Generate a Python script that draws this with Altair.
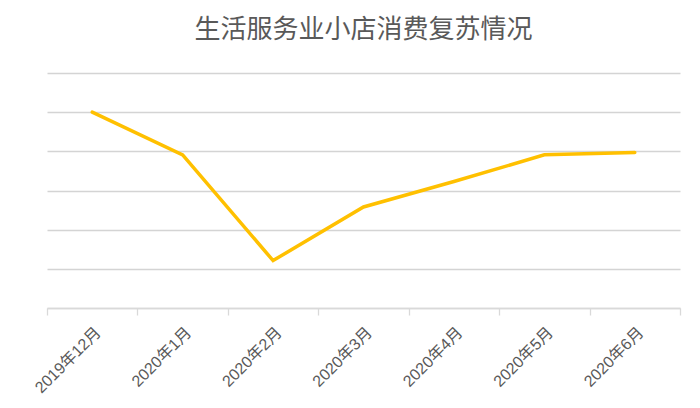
import altair as alt
import pandas as pd

months = ["2019年12月", "2020年1月", "2020年2月", "2020年3月", "2020年4月", "2020年5月", "2020年6月"]
values = [5.0, 3.91, 1.21, 2.58, 3.23, 3.91, 3.97]

df = pd.DataFrame({"month": months, "value": values})

FONT = "Noto Sans CJK SC"

chart = (
    alt.Chart(df)
    .mark_line(color="#FFC000", strokeWidth=3.5, strokeCap="round", strokeJoin="miter")
    .encode(
        x=alt.X(
            "month:N",
            sort=months,
            bandPosition=0.5,
            scale=alt.Scale(type="band", paddingInner=0, paddingOuter=0),
            axis=alt.Axis(
                title=None,
                labelAngle=-45,
                labelAlign="right",
                labelBaseline="top",
                labelFontSize=16,
                labelColor="#595959",
                labelFont="Liberation Sans, Noto Sans CJK SC",
                labelPadding=9,
                tickBand="extent",
                tickSize=7,
                tickColor="#d9d9d9",
                tickWidth=1.3,
                domainColor="#d9d9d9",
                domainWidth=1.3,
                grid=False,
            ),
        ),
        y=alt.Y(
            "value:Q",
            scale=alt.Scale(domain=[0, 6], nice=False, zero=True),
            axis=alt.Axis(
                title=None,
                labels=False,
                ticks=False,
                domain=False,
                values=[0, 1, 2, 3, 4, 5, 6],
                gridColor="#d4d4d4",
                gridWidth=1.4,
            ),
        ),
    )
    .properties(
        width=633,
        height=235,
        title=alt.TitleParams(
            "生活服务业小店消费复苏情况",
            font=FONT,
            fontSize=26,
            fontWeight="normal",
            color="#595959",
            anchor="middle",
            offset=30,
        ),
        autosize=alt.AutoSizeParams(type="none"),
        padding={"left": 39, "top": 65, "right": 12, "bottom": 90},
    )
    .configure_view(stroke=None)
)

chart.save("out.html", embed_options={"renderer": "svg", "actions": False})
